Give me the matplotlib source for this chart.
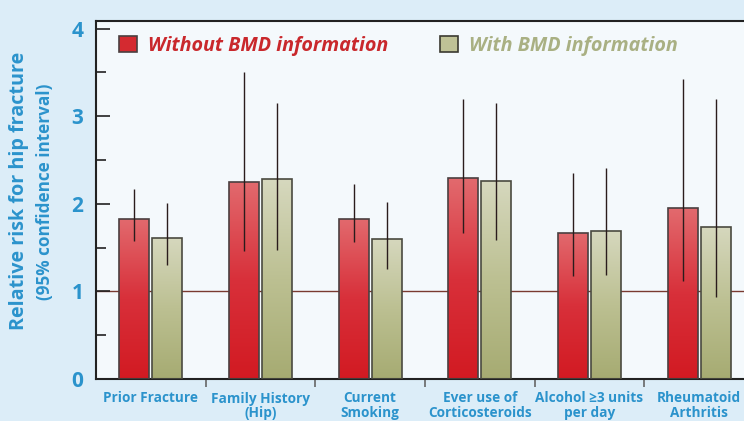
import numpy as np
import matplotlib
matplotlib.use("Agg")
import matplotlib.pyplot as plt
from matplotlib.colors import LinearSegmentedColormap
from matplotlib.ticker import FixedLocator, MultipleLocator

# ---- data ----
categories = ["Prior Fracture", "Family History\n(Hip)", "Current\nSmoking",
              "Ever use of\nCorticosteroids", "Alcohol \u22653 units\nper day",
              "Rheumatoid\nArthritis"]
without_bmd = [1.83, 2.25, 1.83, 2.29, 1.67, 1.95]
without_lo = [1.58, 1.46, 1.56, 1.67, 1.18, 1.12]
without_hi = [2.17, 3.50, 2.22, 3.20, 2.35, 3.42]
with_bmd = [1.61, 2.28, 1.60, 2.26, 1.69, 1.74]
with_lo = [1.30, 1.47, 1.26, 1.59, 1.19, 0.94]
with_hi = [2.01, 3.15, 2.02, 3.15, 2.41, 3.20]
series_names = ["Without BMD information", "With BMD information"]
yticks = [0, 1, 2, 3, 4]

BLUE = "#2b93cc"
FONT = "Open Sans"

fig = plt.figure(figsize=(7.44, 4.21), dpi=100)
fig.patch.set_facecolor("#dcedf8")
ax = fig.add_axes([96/744, 1-379/421, 1-96/744, (379-21)/421])
ax.set_facecolor("#f4f9fc")

x = np.arange(len(categories))
w = 0.273
off = 0.15

red_cmap = LinearSegmentedColormap.from_list("r", ["#d21a22", "#d8303a", "#e26a6e"])
grn_cmap = LinearSegmentedColormap.from_list("g", ["#a6ab72", "#bcc092", "#d6d8be"])

b1 = ax.bar(x - off, without_bmd, w, facecolor="none", edgecolor="#4a4040", lw=1.2, zorder=3)
b2 = ax.bar(x + off, with_bmd, w, facecolor="none", edgecolor="#4a4a40", lw=1.2, zorder=3)

grad = np.linspace(0, 1, 256).reshape(-1, 1)
for bars, cmap in ((b1, red_cmap), (b2, grn_cmap)):
    for p in bars:
        x0, y0 = p.get_x(), p.get_y()
        im = ax.imshow(grad, cmap=cmap, origin="lower", aspect="auto",
                       extent=[x0, x0 + p.get_width(), y0, y0 + p.get_height()],
                       zorder=2)
        im.set_clip_path(p)

ecol = "#2a1c1c"
ax.errorbar(x - off, without_bmd,
            yerr=[np.array(without_bmd) - np.array(without_lo), np.array(without_hi) - np.array(without_bmd)],
            fmt="none", ecolor=ecol, elinewidth=1.0, capsize=0, zorder=4)
ax.errorbar(x + off, with_bmd,
            yerr=[np.array(with_bmd) - np.array(with_lo), np.array(with_hi) - np.array(with_bmd)],
            fmt="none", ecolor=ecol, elinewidth=1.0, capsize=0, zorder=4)

ax.axhline(1, color="#7a3a30", lw=1.0, zorder=1)

ax.set_xlim(-0.499, 5.408)
ax.set_ylim(0, 4.086)

# spines
for s in ("left", "bottom", "top"):
    ax.spines[s].set_color("#222222")
    ax.spines[s].set_linewidth(1.5)
ax.spines["right"].set_visible(False)

# y ticks
ax.yaxis.set_major_locator(FixedLocator(yticks))
ax.yaxis.set_minor_locator(MultipleLocator(0.5))
ax.tick_params(axis="y", which="major", direction="in", length=10, width=1.2,
               color="#222222", labelcolor=BLUE, labelsize=15, pad=9)
ax.tick_params(axis="y", which="minor", direction="in", length=7, width=1.2, color="#222222")
for t in ax.get_yticklabels():
    t.set_fontfamily(FONT)
    t.set_fontweight("bold")

# x ticks
ax.set_xticks(x)
ax.set_xticklabels(categories, fontfamily=FONT, fontweight="bold", fontsize=9.8,
                   color=BLUE, linespacing=1.05)
ax.xaxis.set_minor_locator(FixedLocator(np.arange(0.5, len(categories) - 0.5, 1)))
ax.tick_params(axis="x", which="major", length=0, pad=9)
ax.tick_params(axis="x", which="minor", direction="out", length=6, width=1.2, color="#666666")

# y labels
fig.text(19/744, 1-191/421, "Relative risk for hip fracture", rotation=90,
         ha="center", va="center", color=BLUE, fontsize=14.2, fontweight="bold", fontfamily=FONT)
fig.text(45/744, 1-192/421, "(95% confidence interval)", rotation=90,
         ha="center", va="center", color=BLUE, fontsize=12.3, fontweight="bold", fontfamily=FONT)

# legend
leg = ax.legend([b1, b2], series_names, loc="upper left", bbox_to_anchor=(0.01, 1.006),
                ncol=2, frameon=False, handlelength=0.9, handleheight=0.9,
                columnspacing=2.65, handletextpad=0.55, borderpad=0.35,
                prop={"family": FONT, "weight": "bold", "style": "italic", "size": 14.2})
for h, c, ec in zip(leg.legend_handles, ["#d42a30", "#bfc296"], ["#4a4040", "#3a3a30"]):
    h.set_facecolor(c)
    h.set_edgecolor(ec)
for t, c in zip(leg.get_texts(), ["#c9282c", "#a9b083"]):
    t.set_color(c)

fig.savefig("out.png", dpi=100, facecolor=fig.get_facecolor())
